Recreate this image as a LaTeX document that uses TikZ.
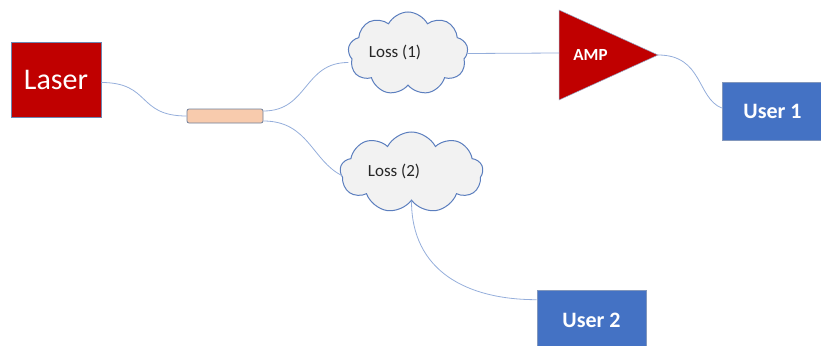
\documentclass[tikz,border=0pt]{standalone}
\usepackage{fontspec}
\setmainfont{Carlito}
\usetikzlibrary{shapes.symbols}
\definecolor{darkred}{HTML}{C00000}
\definecolor{userblue}{HTML}{4472C4}
\definecolor{edgeblue}{HTML}{2F528F}
\definecolor{wire}{HTML}{95AEDB}
\definecolor{cloudline}{HTML}{5B7EBE}
\definecolor{cloudfill}{HTML}{F2F2F2}
\definecolor{peach}{HTML}{F8CBAD}
\definecolor{splitline}{HTML}{6F7F9A}
\tikzset{
  wireline/.style={draw=wire, line width=0.8pt},
  redbox/.style={draw=edgeblue!70, line width=0.6pt, fill=darkred, text=white, inner sep=0pt},
  userbox/.style={draw=edgeblue!60, line width=0.6pt, fill=userblue, text=white, inner sep=0pt, font=\fontsize{22}{26}\selectfont\bfseries},
  lossbubble/.style={cloud, cloud puffs=9, cloud puff arc=125, aspect=1.5, draw=cloudline, line width=1pt, fill=cloudfill, inner sep=0pt},
  losstext/.style={font=\fontsize{17}{20}\selectfont, text=black!85},
}
\begin{document}
\begin{tikzpicture}[x=1pt,y=-1pt]
\useasboundingbox (0,0) rectangle (821,345);
\clip (0,0) rectangle (821,345);
% nodes
\node[redbox, minimum width=90pt, minimum height=75pt, font=\fontsize{30}{36}\selectfont] (laser) at (56,79.5) {Laser};
\node[draw=splitline, line width=0.8pt, fill=peach, rounded corners=2pt, minimum width=76pt, minimum height=14pt, inner sep=0pt] (split) at (225,116) {};
\node[lossbubble, minimum width=120pt, minimum height=83pt] (loss1) at (408,53.5) {};
\node[losstext] (loss1t) at (395,52) {Loss (1)};
\node[lossbubble, minimum width=143pt, minimum height=81pt] (loss2) at (411.5,172.5) {};
\node[losstext] (loss2t) at (394,171) {Loss (2)};
\coordinate (ampA) at (559,10);
\coordinate (ampB) at (559,100);
\coordinate (ampout) at (658,55);
\coordinate (ampin) at (559,53);
\fill[darkred] (ampA) -- (ampout) -- (ampB) -- cycle;
\draw[draw=edgeblue!50, line width=0.5pt] (ampA) -- (ampout) -- (ampB) -- cycle;
\node[text=white, font=\fontsize{17}{20}\selectfont\bfseries] (amp) at (590.5,55) {AMP};
\node[userbox, minimum width=101pt, minimum height=58pt] (user1) at (772.5,111) {User 1};
\node[userbox, minimum width=109pt, minimum height=60pt] (user2) at (591.5,320) {User 2};
% connectors
\draw[wireline] (laser.east) ++(0,3) coordinate (lz) (lz) .. controls +(50,0) and +(-50,0) .. (split.west);
\draw[wireline] ([yshift=5pt]split.east) .. controls +(45,0) and +(-45,0) .. ([yshift=-9pt]loss1.west);
\draw[wireline] ([yshift=-5pt]split.east) .. controls +(45,0) and +(-30,-15) .. ([xshift=2pt,yshift=-3pt]loss2.west);
\draw[wireline] (loss1.east) -- (ampin);
\draw[wireline] (ampout) .. controls +(45,0) and +(-25,-10) .. ([yshift=3pt]user1.west);
\draw[wireline] (loss2.south) .. controls +(0,70) and +(-70,0) .. ([yshift=-10pt]user2.north west);
\end{tikzpicture}
\end{document}
